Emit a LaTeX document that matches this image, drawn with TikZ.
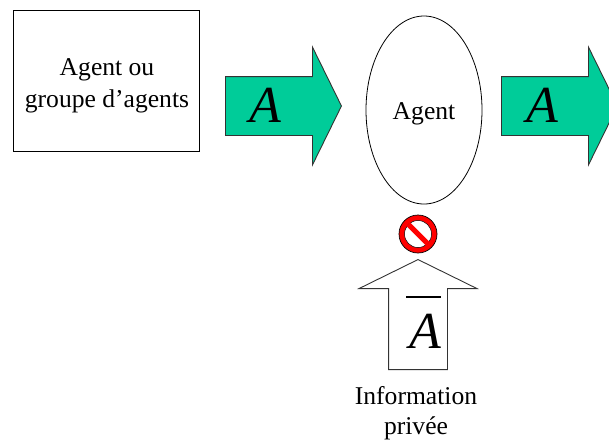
\documentclass[tikz,border=0pt]{standalone}
\usepackage{fontspec}
\setmainfont{Liberation Serif}
\usetikzlibrary{shapes.arrows, shapes.geometric, positioning}
\definecolor{flowgreen}{HTML}{00CC99}

\tikzset{
    x=1pt, y=-1pt,
    txt/.style={font=\fontsize{25.6}{32}\selectfont, inner sep=0pt, align=center},
    bigletter/.style={font=\fontsize{52}{52}\selectfont\itshape, inner sep=0pt, anchor=base},
    flowarrow/.style={draw=black!80, line width=0.9pt, single arrow, inner sep=0pt, anchor=tail,
            text height=58pt, text depth=0pt, text width=0pt, minimum height=116pt,
            single arrow head extend=29.5pt, single arrow tip angle=127.6, single arrow head indent=0pt}
}

\begin{document}
\begin{tikzpicture}
    \clip (0,0) rectangle (609,440);
    \useasboundingbox (0,0) rectangle (609,440);

    % Source box
    \node[draw, line width=0.8pt, minimum width=186pt, minimum height=141pt] (source) at (106,80.5) {};
    \node[txt] (sourcetext) at ([xshift=1pt,yshift=-5pt]source) {Agent ou\\groupe d'agents};

    % Green arrows
    \node[flowarrow, fill=flowgreen] (flowin) at (225,106) {};
    \node[bigletter] (letterin) at (265.5,122) {A};
    \node[flowarrow, fill=flowgreen] (flowout) at (501,106) {};
    \node[bigletter] (letterout) at (542,122) {A};

    % Central agent
    \node[draw, line width=0.8pt, ellipse, minimum width=116pt, minimum height=188pt] (agent) at (424,110) {};
    \node[txt] (agenttext) at (424,114) {Agent};

    % Forbidden sign
    \node[circle, draw, line width=0.7pt, fill=red, minimum size=38pt, inner sep=0pt] (forbid) at (418,234) {};
    \node[circle, draw, line width=0.5pt, fill=white, minimum size=27pt, inner sep=0pt] (forbidin) at (forbid) {};
    \draw[red, line width=5pt] (forbidin.north west) -- (forbidin.south east);

    % Private information arrow
    \node[flowarrow, fill=white, rotate=90, minimum height=110pt] (flowup) at (418,370) {};
    \node[bigletter] (letterpriv) at (425.5,348) {A};
    \coordinate (barleft) at (406,297);
    \coordinate (barright) at (441,297);
    \draw[line width=2pt] (barleft) -- (barright);
    \node[txt, font=\fontsize{25.6}{30}\selectfont] (private) at (416,413.5) {Information\\privée};
\end{tikzpicture}
\end{document}
